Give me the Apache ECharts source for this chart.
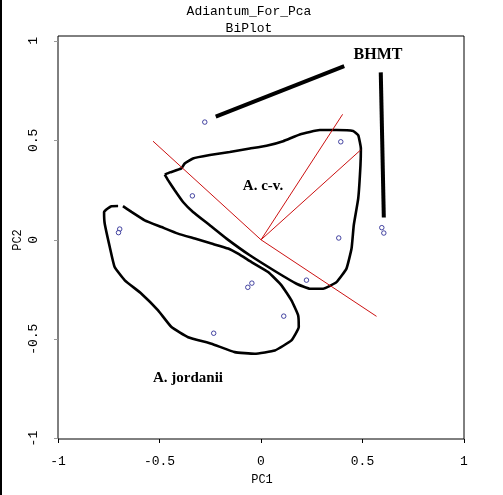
<!DOCTYPE html>
<html><head><meta charset="utf-8">
<script src="https://cdn.jsdelivr.net/npm/echarts@6/dist/echarts.min.js"></script>
<style>html,body{margin:0;padding:0;background:#fff}#c{width:503px;height:495px}</style>
</head><body><div id="c"></div>
<script>
// Sample scores (PC1, PC2)
const scoresPC1 = [-0.277, -0.338, -0.696, -0.702, 0.393, 0.383, 0.595, 0.605, 0.224, -0.065, -0.045, 0.112, -0.233];
const scoresPC2 = [0.592, 0.221, 0.054, 0.036, 0.493, 0.009, 0.061, 0.034, -0.203, -0.239, -0.218, -0.384, -0.470];
// Variable loadings (arrow tips from origin)
const loadPC1 = [-0.532, 0.569, 0.402, 0.490];
const loadPC2 = [0.496, -0.385, 0.631, 0.451];
// Hand-drawn group outlines
const groupCV = [[-0.474,0.328],[-0.449,0.339],[-0.392,0.359],[-0.376,0.384],[-0.335,0.409],[-0.252,0.426],[-0.154,0.442],[-0.055,0.459],[0.027,0.473],[0.109,0.496],[0.191,0.530],[0.290,0.552],[0.372,0.552],[0.454,0.547],[0.479,0.526],[0.492,0.459],[0.490,0.375],[0.479,0.208],[0.457,0.073],[0.446,-0.044],[0.421,-0.145],[0.372,-0.213],[0.306,-0.246],[0.241,-0.246],[0.175,-0.221],[0.076,-0.162],[-0.055,-0.078],[-0.170,0.006],[-0.252,0.073],[-0.335,0.140],[-0.384,0.190],[-0.425,0.249],[-0.458,0.300],[-0.474,0.328]];
const groupJord = [[-0.680,0.169],[-0.638,0.140],[-0.573,0.098],[-0.490,0.064],[-0.409,0.031],[-0.326,0.006],[-0.244,-0.019],[-0.162,-0.044],[-0.113,-0.070],[-0.047,-0.112],[0.035,-0.162],[0.101,-0.229],[0.150,-0.305],[0.183,-0.380],[0.186,-0.439],[0.150,-0.506],[0.068,-0.557],[-0.031,-0.573],[-0.129,-0.565],[-0.244,-0.523],[-0.359,-0.490],[-0.441,-0.439],[-0.507,-0.355],[-0.589,-0.271],[-0.671,-0.204],[-0.721,-0.137],[-0.745,-0.036],[-0.770,0.082],[-0.773,0.140],[-0.737,0.169],[-0.704,0.170]];
// BHMT pointer strokes
const bhmtStroke1 = [[-0.223,0.619],[0.410,0.874]];
const bhmtStroke2 = [[0.590,0.842],[0.605,0.112]];
const tickValues = [-1, -0.5, 0, 0.5, 1];

const chart = echarts.init(document.getElementById('c'), null, {renderer:'canvas'});
const mono = 'Liberation Mono';
const series = [];
series.push({type:'line', data:groupCV, smooth:0.12, symbol:'none', lineStyle:{color:'#000', width:2.6}, z:3, silent:true});
series.push({type:'line', data:groupJord, smooth:0.12, symbol:'none', lineStyle:{color:'#000', width:2.6}, z:3, silent:true});
series.push({type:'line', data:bhmtStroke1, symbol:'none', lineStyle:{color:'#000', width:4}, z:3});
series.push({type:'line', data:bhmtStroke2, symbol:'none', lineStyle:{color:'#000', width:4}, z:3});
loadPC1.forEach((v,i)=>{
  series.push({type:'line', data:[[0,0],[v, loadPC2[i]]], symbol:'none', lineStyle:{color:'#cc1111', width:1}, z:4});
});
series.push({type:'scatter', data:scoresPC1.map((v,i)=>[v, scoresPC2[i]]), symbol:'circle', symbolSize:4.5,
  itemStyle:{color:'#fff', borderColor:'#1a1a8c', borderWidth:1}, z:5});

chart.setOption({
  animation:false,
  backgroundColor:'#fff',
  grid:{left:58, right:39, top:36, bottom:56, show:true, borderColor:'#000', borderWidth:1, containLabel:false},
  xAxis:{type:'value', min:-1, max:1, interval:0.5,
    axisLine:{show:false, onZero:false}, splitLine:{show:false},
    axisTick:{show:true, length:4, lineStyle:{color:'#000'}},
    axisLabel:{margin:16, color:'#000', fontFamily:mono, fontSize:13}},
  yAxis:{type:'value', min:-1.002, max:1.025,
    axisLine:{show:false, onZero:false}, splitLine:{show:false},
    axisTick:{show:true, length:4, customValues:tickValues, lineStyle:{color:'#999'}},
    axisLabel:{customValues:tickValues, rotate:90, margin:18, color:'#000', fontFamily:mono, fontSize:13}},
  series:series,
  graphic:[
    {type:'rect', left:0, top:0, shape:{width:2, height:495}, style:{fill:'#000'}},
    {type:'text', x:249, y:12, style:{text:'Adiantum_For_Pca', font:'13px "Liberation Mono"', fill:'#000', align:'center', verticalAlign:'middle'}},
    {type:'text', x:249, y:29, style:{text:'BiPlot', font:'13px "Liberation Mono"', fill:'#000', align:'center', verticalAlign:'middle'}},
    {type:'text', x:262, y:480, style:{text:'PC1', font:'12px "Liberation Mono"', fill:'#000', align:'center', verticalAlign:'middle'}},
    {type:'text', x:18, y:240, rotation:Math.PI/2, style:{text:'PC2', font:'12px "Liberation Mono"', fill:'#000', align:'center', verticalAlign:'middle'}},
    {type:'text', x:378, y:55, style:{text:'BHMT', font:'bold 16px "Liberation Serif"', fill:'#000', align:'center', verticalAlign:'middle'}},
    {type:'text', x:263, y:186, style:{text:'A. c-v.', font:'bold 15px "Liberation Serif"', fill:'#000', align:'center', verticalAlign:'middle'}},
    {type:'text', x:188, y:378, style:{text:'A. jordanii', font:'bold 15px "Liberation Serif"', fill:'#000', align:'center', verticalAlign:'middle'}}
  ]
});
</script></body></html>
